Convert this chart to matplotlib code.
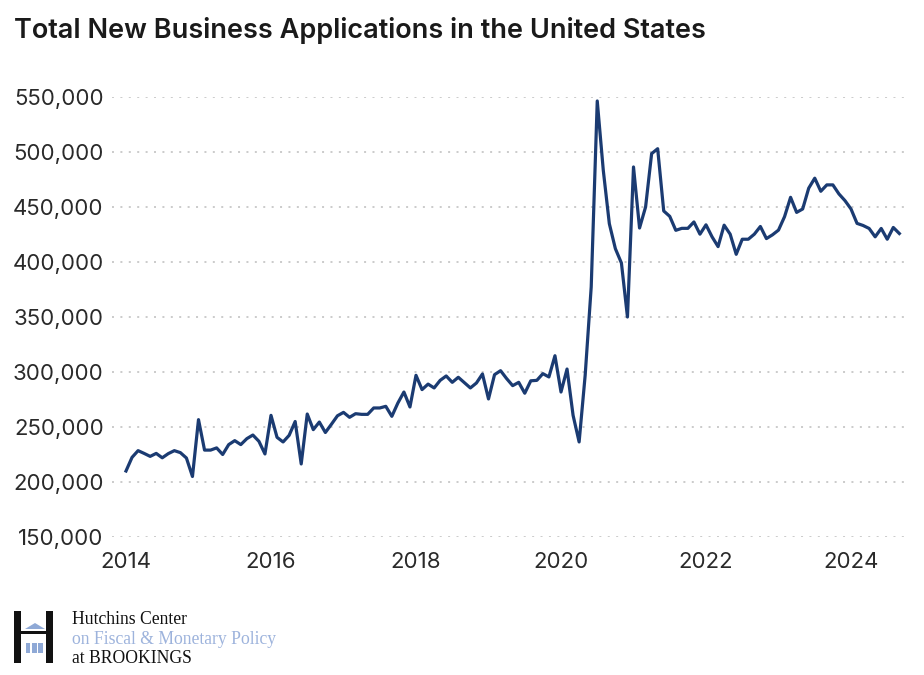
import numpy as np
import matplotlib
matplotlib.use('Agg')
import matplotlib.pyplot as plt
from matplotlib.patches import Rectangle, Polygon
from matplotlib.ticker import FuncFormatter

# monthly total business applications (thousands), Jan 2014 - Sep 2024
start_year = 2014
apps_k = [
    210, 222.4, 228.5, 226, 223.3, 226, 222, 225.8, 228.5, 226.7, 221.8, 205,          # 2014
    256.7, 229, 229, 231, 225, 234, 237.6, 234, 239.4, 242.7, 237, 225.5,             # 2015
    260.6, 240.6, 236.4, 242.4, 255, 216.4, 261.8, 247.6, 254.5, 245, 252.5, 260.2,   # 2016
    263.3, 258.8, 262.1, 261.5, 261.5, 267.3, 267.3, 268.8, 259.7, 271.8, 281.8, 268.2,  # 2017
    297, 284, 289, 285.5, 292.4, 296.4, 290.6, 295.2, 290.3, 285.5, 290, 298.2,       # 2018
    275.5, 297.6, 301.2, 294, 287.6, 290.6, 280.7, 292, 292.4, 298.5, 295.5, 314.8,   # 2019
    281.8, 302.7, 260.6, 236.4, 297, 377.3, 546.4, 483.3, 434.8, 412.1, 399.1, 350,   # 2020
    486.4, 430.9, 450, 498.5, 503, 446.4, 441.5, 428.8, 430.6, 430.6, 436.4, 425.3,   # 2021
    433.8, 422.9, 414, 433.5, 425.3, 407, 420.7, 420.7, 425.3, 432.3, 421.3, 424.7,   # 2022
    429, 441.2, 458.8, 445.1, 448.2, 467.1, 476.2, 464.3, 470.1, 470.1, 461.9, 455.8,  # 2023
    448.2, 435.1, 433.2, 430.5, 422.9, 430.5, 420.7, 431.4, 425.9,                    # 2024
]
year_ticks = [2014, 2016, 2018, 2020, 2022, 2024]
value_ticks = [150000, 200000, 250000, 300000, 350000, 400000, 450000, 500000, 550000]

apps = np.array(apps_k) * 1000
x = start_year + np.arange(len(apps)) / 12

W, H = 924, 675
fig = plt.figure(figsize=(W / 100, H / 100), dpi=100)

# main plot area (pixel placement)
ax = fig.add_axes([112 / W, (H - 537) / H, 798 / W, 440 / H])
ax.plot(x, apps, color='#1b3b72', lw=2.3, solid_joinstyle='round', clip_on=False, zorder=3)

ax.set_ylim(150000, 550000)
ax.set_xlim(start_year - 14 / 72.5, start_year + (910 - 126) / 72.5)
ax.set_yticks(value_ticks)
ax.set_xticks(year_ticks)
ax.yaxis.set_major_formatter(FuncFormatter(lambda v, p: f'{int(v):,}'))
ax.tick_params(length=0, labelsize=16, colors='#2a2a2a', pad=6)
ax.tick_params(axis='x', pad=11)
for lab in ax.get_xticklabels() + ax.get_yticklabels():
    lab.set_fontfamily('Inter')
for s in ax.spines.values():
    s.set_visible(False)
ax.grid(axis='y', color='#bdbdbd', lw=1.1, linestyle=(0, (1.3, 4.2)))
ax.set_axisbelow(True)

fig.text(14 / W, 1 - 31 / H, 'Total New Business Applications in the United States',
         fontsize=19.5, fontweight='semibold', family='Inter', color='#1a1a1a', va='center')

# logo
lax = fig.add_axes([0, 0, 1, 1], zorder=-1)
lax.set_xlim(0, W)
lax.set_ylim(H, 0)
lax.axis('off')
dark, light = '#111111', '#8fa9d6'
lax.add_patch(Rectangle((13.5, 611), 7.5, 52, color=dark, lw=0))
lax.add_patch(Rectangle((45.5, 611), 7.5, 52, color=dark, lw=0))
lax.add_patch(Rectangle((21, 631), 24.5, 3, color=dark, lw=0))
lax.add_patch(Polygon([(25, 629), (35, 623), (45, 629)], closed=True, color=light, lw=0))
for cx in (26, 32.2, 38.4):
    lax.add_patch(Rectangle((cx, 643), 4.3, 10, color=light, lw=0))

lax.text(72, 624.5, 'Hutchins Center', family='Liberation Serif', fontsize=12.7, color=dark)
lax.text(72, 643.5, 'on Fiscal & Monetary Policy', family='Liberation Serif', fontsize=12.7, color='#9db3dc')
lax.text(72, 663, 'at BROOKINGS', family='Liberation Serif', fontsize=12.7, color=dark)

fig.savefig('out.png', dpi=100)
